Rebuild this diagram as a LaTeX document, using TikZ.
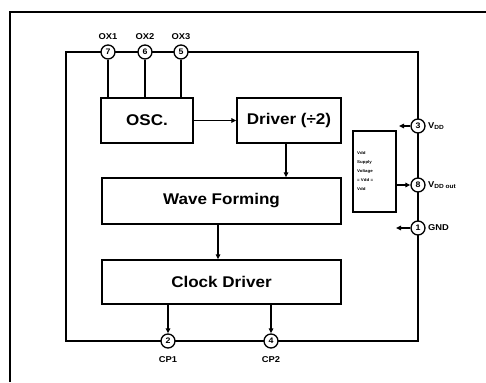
\documentclass[tikz,border=0pt]{standalone}
\usepackage{fontspec}
\setmainfont{Liberation Sans}[FakeStretch=1.1]
\usetikzlibrary{arrows.meta}
\tikzset{
  blk/.style={draw, line width=1.3pt, inner sep=0pt, font=\fontsize{15.5}{17}\selectfont\bfseries},
  pin/.style={draw, circle, fill=white, line width=1.3pt, minimum size=14pt, inner sep=0pt, font=\fontsize{8}{9}\selectfont\bfseries},
  wire/.style={line width=1.4pt},
  arr/.style={line width=1.4pt, -{Triangle[length=5pt,width=4.5pt]}},
  lbl/.style={font=\fontsize{8.5}{9}\selectfont\bfseries, inner sep=0pt},
}
\begin{document}
\begin{tikzpicture}[x=1pt,y=-1pt]
\useasboundingbox (0,0) rectangle (486,382);
% outer frame (cropped)
\draw[line width=1.6pt] (10,382) -- (10,12) -- (486,12);
% inner bus loop
\draw[wire] (66,52) rectangle (418,341);
% blocks
\node[blk, minimum width=92pt, minimum height=45pt] (osc) at (147,120.5) {OSC.};
\node[blk, minimum width=104pt, minimum height=45pt] (drv) at (289,120.5) {Driver (÷2)};
\node[blk, minimum width=239pt, minimum height=46pt] (wave) at (221.5,201) {Wave Forming};
\node[blk, minimum width=239pt, minimum height=44pt] (clk) at (221.5,282) {Clock Driver};
\node[draw, line width=1.3pt, minimum width=43pt, minimum height=81pt, inner sep=0pt] (vbox) at (374.5,171.5) {};
\node[font=\fontsize{4}{9}\selectfont\bfseries, align=left, anchor=west, inner sep=0pt] (vtxt) at (357,171) {Vdd\\Supply\\Voltage\\= Vdd =\\Vdd};
% pins
\node[pin] (p7) at (108,52) {7};
\node[pin] (p6) at (145,52) {6};
\node[pin] (p5) at (181,52) {5};
\node[pin] (p3) at (418,126) {3};
\node[pin] (p8) at (418,185) {8};
\node[pin] (p1) at (418,228) {1};
\node[pin] (p2) at (168,341) {2};
\node[pin] (p4) at (271,341) {4};
% pin labels
\node[lbl] (l7) at (108,37) {OX1};
\node[lbl] (l6) at (145,37) {OX2};
\node[lbl] (l5) at (181,37) {OX3};
\node[lbl] (l2) at (168,360) {CP1};
\node[lbl] (l4) at (271,360) {CP2};
\node[lbl, anchor=west] (l3) at (428,126) {V\textsubscript{DD}};
\node[lbl, anchor=west] (l8) at (428,185) {V\textsubscript{DD out}};
\node[lbl, anchor=west] (l1) at (428,228) {GND};
% connections
\draw[wire] (p7) -- (p7 |- osc.north);
\draw[wire] (p6) -- (p6 |- osc.north);
\draw[wire] (p5) -- (p5 |- osc.north);
\draw[arr] (osc.east) -- (drv.west);
\draw[arr] ([xshift=-3pt]drv.south) -- ([xshift=-3pt]drv.south |- wave.north);
\draw[arr] ([xshift=-3.5pt]wave.south) -- ([xshift=-3.5pt]wave.south |- clk.north);
\draw[arr] (p2 |- clk.south) -- (p2);
\draw[arr] (p4 |- clk.south) -- (p4);
\draw[arr] (vbox.east |- p8) -- (p8);
\coordinate (a3) at (399,126);
\coordinate (a1) at (396,228);
\draw[arr] (p3) -- (a3);
\draw[arr] (p1) -- (a1);
\end{tikzpicture}
\end{document}
